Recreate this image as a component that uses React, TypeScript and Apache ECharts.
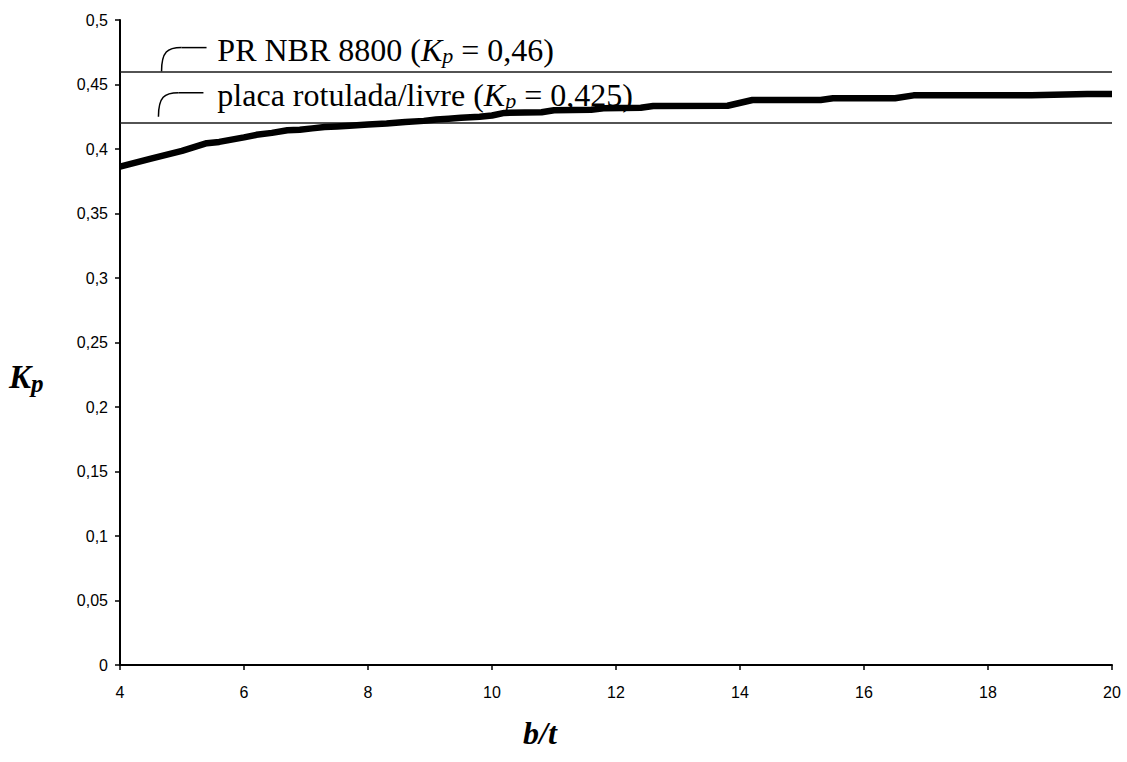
import React, { useEffect, useRef } from "react";
import * as echarts from "echarts";

// b/t values (x) and Kp values (y)
const bt = [4, 4.5, 5, 5.4, 5.6, 6.0, 6.2, 6.45, 6.7, 6.9, 7.1, 7.3, 7.5, 7.7, 8.0, 8.3, 8.6, 8.9, 9.1, 9.3, 9.5, 9.8, 10.0, 10.2, 10.8, 11.0, 11.6, 11.8, 12.4, 12.6, 13.8, 14.2, 15.3, 15.5, 16.5, 16.8, 18.7, 19.6, 20];
const kp = [0.3863, 0.3925, 0.3985, 0.4045, 0.4055, 0.409, 0.411, 0.4125, 0.4145, 0.415, 0.416, 0.417, 0.4175, 0.418, 0.419, 0.4198, 0.421, 0.4218, 0.4228, 0.4235, 0.4243, 0.425, 0.426, 0.428, 0.4285, 0.43, 0.4305, 0.4315, 0.432, 0.4333, 0.4335, 0.438, 0.438, 0.4393, 0.4393, 0.4416, 0.4416, 0.4426, 0.4426];

// reference lines
const refValues = [0.46, 0.425];
const refNames = ["PR NBR 8800", "placa rotulada/livre"];
const refKpTexts = ["0,46", "0,425"];

// axes
const xMin = 4, xMax = 20, xStep = 2;
const yMin = 0, yMax = 0.5, yStep = 0.05;

const serif = "'Times New Roman', 'Liberation Serif', serif";
const sans = "Arial, 'Liberation Sans', sans-serif";

export default function App() {
  const ref = useRef<HTMLDivElement>(null);
  useEffect(() => {
    document.body.style.margin = "0";
    document.body.style.overflow = "hidden";
    const chart = echarts.init(ref.current!, null, { renderer: "svg" });
    chart.setOption({
      animation: false,
      backgroundColor: "#fff",
      grid: { left: 120, right: 15, top: 20, bottom: 97, containLabel: false },
      xAxis: {
        type: "value",
        min: xMin,
        max: xMax,
        interval: xStep,
        axisLine: { show: true, onZero: false, lineStyle: { color: "#000", width: 2 } },
        axisTick: { show: true, length: 5, lineStyle: { color: "#000", width: 1.5 } },
        axisLabel: { color: "#000", fontSize: 16, fontFamily: sans, margin: 19 },
        splitLine: { show: false },
      },
      yAxis: {
        type: "value",
        min: yMin,
        max: yMax,
        interval: yStep,
        axisLine: { show: true, onZero: false, lineStyle: { color: "#000", width: 2 } },
        axisTick: { show: true, length: 5, lineStyle: { color: "#000", width: 1.5 } },
        axisLabel: {
          color: "#000",
          fontSize: 16,
          fontFamily: sans,
          margin: 12,
          formatter: (v: number) => String(Math.round(v * 100) / 100).replace(".", ","),
        },
        splitLine: { show: false },
      },
      series: [
        {
          type: "line",
          data: bt.map((x, i) => [x, kp[i]]),
          symbol: "none",
          showSymbol: false,
          z: 5,
          lineStyle: { color: "#000", width: 6.5, join: "round" },
          markLine: {
            silent: true,
            symbol: ["none", "none"],
            label: { show: false },
            lineStyle: { color: "#1a1a1a", width: 1.5, type: "solid" },
            data: refValues.map((v) => ({ yAxis: v })),
          },
        },
      ],
    });

    const px = (x: number, y: number) => chart.convertToPixel({ gridIndex: 0 }, [x, y]) as number[];
    const leaderX = [4.67, 4.62];
    const textX = 5.57;
    const graphics: any[] = [];
    refValues.forEach((v, i) => {
      const [lx, ly] = px(leaderX[i], v);
      const top = ly - 24;
      graphics.push({
        type: "bezierCurve",
        shape: { x1: lx, y1: ly, cpx1: lx, cpy1: top + 4, cpx2: lx + 6, cpy2: top, x2: lx + 20, y2: top },
        style: { stroke: "#000", lineWidth: 1.5, fill: null },
        z: 1,
      });
      graphics.push({
        type: "line",
        shape: { x1: lx + 20, y1: top, x2: lx + 45, y2: top },
        style: { stroke: "#000", lineWidth: 1.5 },
        z: 1,
      });
      const [tx] = px(textX, v);
      graphics.push({
        type: "text",
        x: tx,
        y: ly - 22,
        z: 1,
        style: {
          text: `{n|${refNames[i]} (}{k|K}{s|p}{n| = ${refKpTexts[i]})}`,
          verticalAlign: "middle",
          align: "left",
          fill: "#000",
          rich: {
            n: { fontFamily: serif, fontSize: 32, fill: "#000" },
            k: { fontFamily: serif, fontSize: 32, fontStyle: "italic", fill: "#000" },
            s: { fontFamily: serif, fontSize: 22, fontStyle: "italic", fill: "#000", padding: [12, 0, 0, 0] },
          },
        },
      });
    });
    // axis titles
    graphics.push({
      type: "text",
      x: 9,
      y: 377,
      style: {
        text: "{k|K}{s|p}",
        verticalAlign: "middle",
        align: "left",
        rich: {
          k: { fontFamily: serif, fontSize: 33, fontStyle: "italic", fontWeight: "bold", fill: "#000" },
          s: { fontFamily: serif, fontSize: 25, fontStyle: "italic", fontWeight: "bold", fill: "#000", padding: [13, 0, 0, 0] },
        },
      },
    });
    graphics.push({
      type: "text",
      x: 540,
      y: 733,
      style: {
        text: "b/t",
        align: "center",
        verticalAlign: "middle",
        fontFamily: serif,
        fontSize: 32,
        fontStyle: "italic",
        fontWeight: "bold",
        fill: "#000",
      },
    });
    chart.setOption({ graphic: graphics });

    return () => chart.dispose();
  }, []);
  return <div ref={ref} style={{ width: 1127, height: 762 }} />;
}
